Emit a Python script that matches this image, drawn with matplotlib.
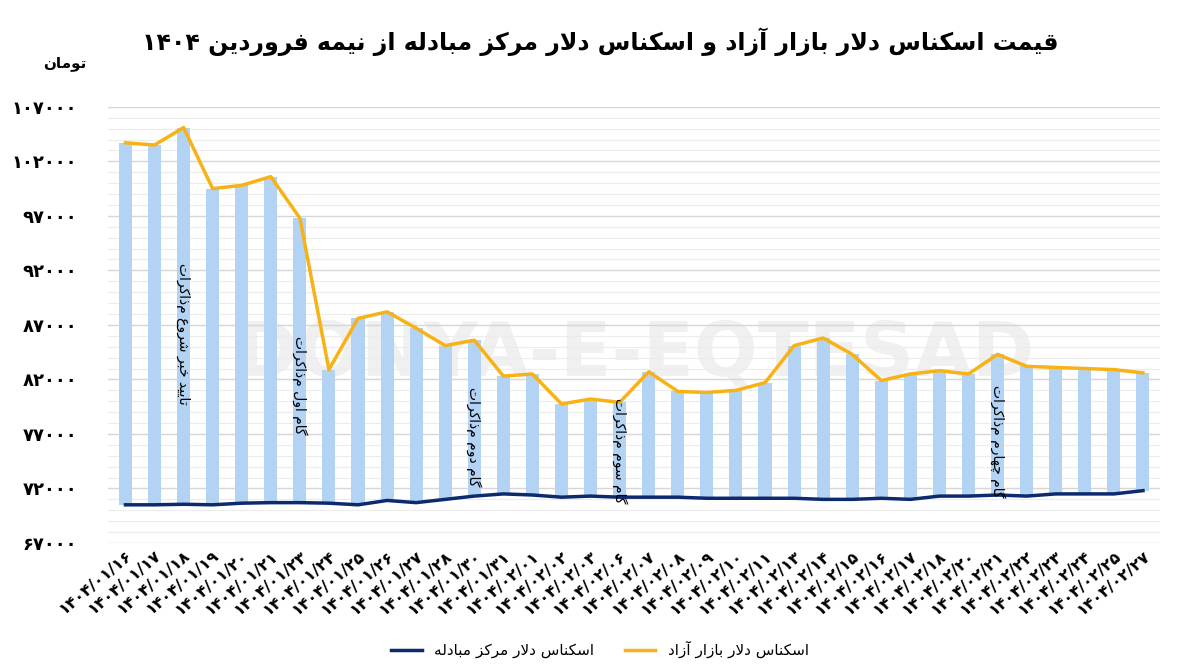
import matplotlib
matplotlib.use("Agg")
import matplotlib.pyplot as plt
import numpy as np
from matplotlib.lines import Line2D

# ---------- Persian shaping helper ----------
FORMS = {
    'ا': (0xFE8D, 0xFE8E, None, None), 'آ': (0xFE81, 0xFE82, None, None),
    'ب': (0xFE8F, 0xFE90, 0xFE91, 0xFE92), 'ت': (0xFE95, 0xFE96, 0xFE97, 0xFE98),
    'خ': (0xFEA5, 0xFEA6, 0xFEA7, 0xFEA8), 'د': (0xFEA9, 0xFEAA, None, None),
    'ر': (0xFEAD, 0xFEAE, None, None), 'ز': (0xFEAF, 0xFEB0, None, None),
    'س': (0xFEB1, 0xFEB2, 0xFEB3, 0xFEB4), 'ش': (0xFEB5, 0xFEB6, 0xFEB7, 0xFEB8),
    'ع': (0xFEC9, 0xFECA, 0xFECB, 0xFECC), 'ف': (0xFED1, 0xFED2, 0xFED3, 0xFED4),
    'ق': (0xFED5, 0xFED6, 0xFED7, 0xFED8), 'ل': (0xFEDD, 0xFEDE, 0xFEDF, 0xFEE0),
    'م': (0xFEE1, 0xFEE2, 0xFEE3, 0xFEE4), 'ن': (0xFEE5, 0xFEE6, 0xFEE7, 0xFEE8),
    'ه': (0xFEE9, 0xFEEA, 0xFEEB, 0xFEEC), 'و': (0xFEED, 0xFEEE, None, None),
    'ی': (0xFBFC, 0xFBFD, 0xFBFE, 0xFBFF), 'ک': (0xFB8E, 0xFB8F, 0xFB90, 0xFB91),
    'گ': (0xFB92, 0xFB93, 0xFB94, 0xFB95), 'چ': (0xFB7A, 0xFB7B, 0xFB7C, 0xFB7D),
}

def shape_word(w):
    chars = list(w)
    out = []
    n = len(chars)
    i = 0
    items = []
    while i < n:
        c = chars[i]
        if c == 'ل' and i + 1 < n and chars[i + 1] in 'اآ':
            items.append('LA' if chars[i + 1] == 'ا' else 'LAA')
            i += 2
        else:
            items.append(c)
            i += 1
    def joins_next(it):
        if it in ('LA', 'LAA'):
            return False
        f = FORMS.get(it)
        return f is not None and f[2] is not None
    def is_letter(it):
        return it in ('LA', 'LAA') or it in FORMS
    for k, it in enumerate(items):
        prev_j = k > 0 and joins_next(items[k - 1])
        next_ok = k + 1 < len(items) and is_letter(items[k + 1])
        if it in ('LA', 'LAA'):
            iso, fin = (0xFEFB, 0xFEFC) if it == 'LA' else (0xFEF5, 0xFEF6)
            out.append(chr(fin if prev_j else iso))
            continue
        f = FORMS.get(it)
        if f is None:
            out.append(it)
            continue
        can_next = f[2] is not None and next_ok
        if prev_j and can_next:
            out.append(chr(f[3]))
        elif prev_j:
            out.append(chr(f[1]))
        elif can_next:
            out.append(chr(f[2]))
        else:
            out.append(chr(f[0]))
    return ''.join(out[::-1])

def fa(text):
    words = text.split(' ')
    res = []
    for w in words:
        if all(ch in '۰۱۲۳۴۵۶۷۸۹/' for ch in w):
            res.append(w)
        else:
            res.append(shape_word(w))
    return ' '.join(res[::-1])

def pdigits(s):
    return s.translate(str.maketrans('0123456789', '۰۱۲۳۴۵۶۷۸۹'))

# ---------- data ----------
dates = ['01/16', '01/17', '01/18', '01/19', '01/20', '01/21', '01/23', '01/24', '01/25',
         '01/26', '01/27', '01/28', '01/30', '01/31', '02/01', '02/02', '02/03', '02/06',
         '02/07', '02/08', '02/09', '02/10', '02/11', '02/13', '02/14', '02/15', '02/16',
         '02/17', '02/18', '02/20', '02/21', '02/22', '02/23', '02/24', '02/25', '02/27']
free_market = [103700, 103500, 105100, 99500, 99800, 100600, 96800, 82900, 87600,
               88200, 86700, 85100, 85600, 82300, 82500, 79750, 80200, 79900,
               82700, 80900, 80800, 81000, 81700, 85100, 85800, 84300, 81900,
               82500, 82800, 82500, 84300, 83200, 83100, 83000, 82900, 82600]
exchange = [70500, 70500, 70550, 70500, 70650, 70700, 70700, 70650, 70500,
            70900, 70700, 71000, 71300, 71500, 71400, 71200, 71300, 71200,
            71200, 71200, 71100, 71100, 71100, 71100, 71000, 71000, 71100,
            71000, 71300, 71300, 71400, 71300, 71500, 71500, 71500, 71800]
yticks = list(range(67000, 107001, 5000))
annotations = [(2, 'تایید خبر شروع مذاکرات', 86200), (6, 'گام اول مذاکرات', 81500),
               (12, 'گام دوم مذاکرات', 76700), (17, 'گام سوم مذاکرات', 75500),
               (30, 'گام چهارم مذاکرات', 76300)]

# ---------- plot ----------
plt.rcParams['font.family'] = 'DejaVu Sans'
fig = plt.figure(figsize=(12, 6.72), dpi=100)
ax = fig.add_axes([0.09, 0.192, 0.877, 0.649])
x = np.arange(len(dates))
ax.bar(x, np.array(free_market) - np.array(exchange), bottom=exchange, width=0.45,
       color='#b3d3f5', zorder=2)
ax.plot(x, free_market, color='#f7b215', lw=2.5, zorder=3)
ax.plot(x, exchange, color='#0d2a6e', lw=2.5, zorder=3)

ax.set_ylim(67000, 107000)
ax.set_xlim(-0.6, len(dates) - 0.4)
ax.set_yticks(yticks)
ax.set_yticklabels([pdigits(str(v)) for v in yticks], fontsize=13, fontweight='bold')
ax.set_yticks(range(67000, 107001, 1000), minor=True)
ax.grid(axis='y', which='minor', color='#ececec', lw=0.8, zorder=0)
ax.grid(axis='y', which='major', color='#d6d6d6', lw=1, zorder=0)
ax.tick_params(axis='y', which='both', length=0, pad=22)
ax.tick_params(axis='x', length=0)
ax.set_xticks(x)
ax.set_xticklabels([pdigits('1404/' + d) for d in dates], rotation=40, ha='right',
                   rotation_mode='anchor', fontsize=11.5, fontweight='bold')
for s in ax.spines.values():
    s.set_visible(False)

for i, txt, yv in annotations:
    ax.text(i, yv, fa(txt), rotation=270, ha='center', va='center', fontsize=10, zorder=4)

ax.text(0.5, 0.43, 'DONYA-E-EQTESAD', transform=ax.transAxes, fontsize=54,
        color='#f0f0f0', ha='center', va='center', fontweight='bold', zorder=1)

fig.text(0.5, 0.925, fa('قیمت اسکناس دلار بازار آزاد و اسکناس دلار مرکز مبادله از نیمه فروردین ۱۴۰۴'),
         ha='center', fontsize=17, fontweight='bold')
fig.text(0.072, 0.9, fa('تومان'), ha='right', fontsize=11, fontweight='bold')

handles = [Line2D([], [], color='#0d2a6e', lw=2.5), Line2D([], [], color='#f7b215', lw=2.5)]
fig.legend(handles, [fa('اسکناس دلار مرکز مبادله'), fa('اسکناس دلار بازار آزاد')],
           loc='lower center', bbox_to_anchor=(0.5, 0.0), ncol=2, frameon=False, fontsize=11)

fig.savefig('out.png', dpi=100)
